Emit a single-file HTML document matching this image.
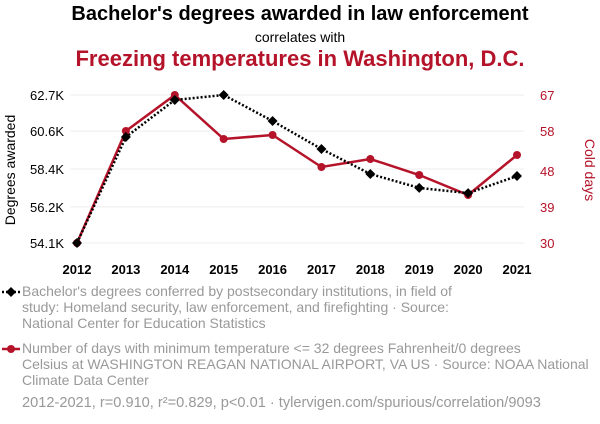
<!DOCTYPE html>
<html><head><meta charset="utf-8"><style>
body{margin:0;background:#fff;font-family:"Liberation Sans",sans-serif;}
#wrap{position:relative;width:600px;height:424px;overflow:hidden;}
.t{position:absolute;white-space:nowrap;}
</style></head><body>
<div id="wrap">
<div class="t" style="left:0;width:600px;text-align:center;top:3px;font-size:20px;font-weight:bold;color:#000">Bachelor's degrees awarded in law enforcement</div>
<div class="t" style="left:0;width:600px;text-align:center;top:29px;font-size:14px;color:#000">correlates with</div>
<div class="t" style="left:0;width:600px;text-align:center;top:46px;font-size:22px;font-weight:bold;color:#b5132a">Freezing temperatures in Washington, D.C.</div>
<svg id="chart" width="600" height="424" style="position:absolute;left:0;top:0"></svg>
<div class="t" style="left:22px;top:283px;font-size:14px;line-height:16px;color:#999;white-space:normal;width:570px">Bachelor's degrees conferred by postsecondary institutions, in field of<br>study: Homeland security, law enforcement, and firefighting · Source:<br>National Center for Education Statistics</div>
<div class="t" style="left:22px;top:340px;font-size:14px;line-height:16px;color:#999;white-space:normal;width:570px">Number of days with minimum temperature &lt;= 32 degrees Fahrenheit/0 degrees<br>Celsius at WASHINGTON REAGAN NATIONAL AIRPORT, VA US · Source: NOAA National<br>Climate Data Center</div>
<div class="t" style="left:22px;top:395px;font-size:14.6px;color:#999">2012-2021, r=0.910, r²=0.829, p&lt;0.01 · tylervigen.com/spurious/correlation/9093</div>
</div>
<script>
const years=[2012,2013,2014,2015,2016,2017,2018,2019,2020,2021];
const degrees=[54.1,60.26,62.41,62.7,61.19,59.56,58.11,57.3,57.0,57.99];
const coldDays=[30,58,67,56,57,49,51,47,42,52];
const leftTicks=[54.1,56.2,58.4,60.6,62.7];
const rightTicks=[30,39,48,58,67];
const NS="http://www.w3.org/2000/svg";
const svg=document.getElementById('chart');
const x=y=>77+(y-2012)*(517-77)/9;
const yL=v=>243-(v-54.1)/(62.7-54.1)*148;
const yR=v=>243-(v-30)/(67-30)*148;
function mk(tag,a){const e=document.createElementNS(NS,tag);for(const k in a)e.setAttribute(k,a[k]);svg.appendChild(e);return e;}
leftTicks.forEach(v=>{const g=mk('line',{x1:70,x2:524,y1:yL(v),y2:yL(v),stroke:'#eee'});


const t=mk('text',{x:64,y:yL(v)+5,'text-anchor':'end','font-size':13,fill:'#000'});t.textContent=v.toFixed(1)+'K';

});
rightTicks.forEach(v=>{const t=mk('text',{x:540,y:yR(v)+5,'text-anchor':'start','font-size':13,fill:'#b5132a'});t.textContent=v;

});
years.forEach(yr=>{const t=mk('text',{x:x(yr),y:274,'text-anchor':'middle','font-size':13,'font-weight':'bold',fill:'#000'});t.textContent=yr;

});
let a=mk('text',{x:0,y:0,'font-size':14,fill:'#000',transform:'translate(15,170) rotate(-90)','text-anchor':'middle'});a.textContent='Degrees awarded';


a=mk('text',{x:0,y:0,'font-size':14,fill:'#b5132a',transform:'translate(585,170) rotate(90)','text-anchor':'middle'});a.textContent='Cold days';


let p=mk('polyline',{points:years.map((yr,i)=>x(yr)+','+yR(coldDays[i])).join(' '),fill:'none',stroke:'#b5132a','stroke-width':2.5});


p=mk('polyline',{points:years.map((yr,i)=>x(yr)+','+yL(degrees[i])).join(' '),fill:'none',stroke:'#000','stroke-width':2.5,'stroke-dasharray':'2,2'});


years.forEach((yr,i)=>{const c=mk('circle',{cx:x(yr),cy:yR(coldDays[i]),r:4,fill:'#b5132a'});

});
years.forEach((yr,i)=>{const cx=x(yr),cy=yL(degrees[i]);const d=mk('polygon',{points:`${cx},${cy-5} ${cx+5},${cy} ${cx},${cy+5} ${cx-5},${cy}`,fill:'#000'});

});
let l=mk('line',{x1:2,x2:20,y1:292,y2:292,stroke:'#000','stroke-width':2.5,'stroke-dasharray':'2,2'});


l=mk('polygon',{points:'11,287 16,292 11,297 6,292',fill:'#000'});


l=mk('line',{x1:2,x2:20,y1:349,y2:349,stroke:'#b5132a','stroke-width':2.5});


l=mk('circle',{cx:11,cy:349,r:4,fill:'#b5132a'});


</script>
</body></html>
